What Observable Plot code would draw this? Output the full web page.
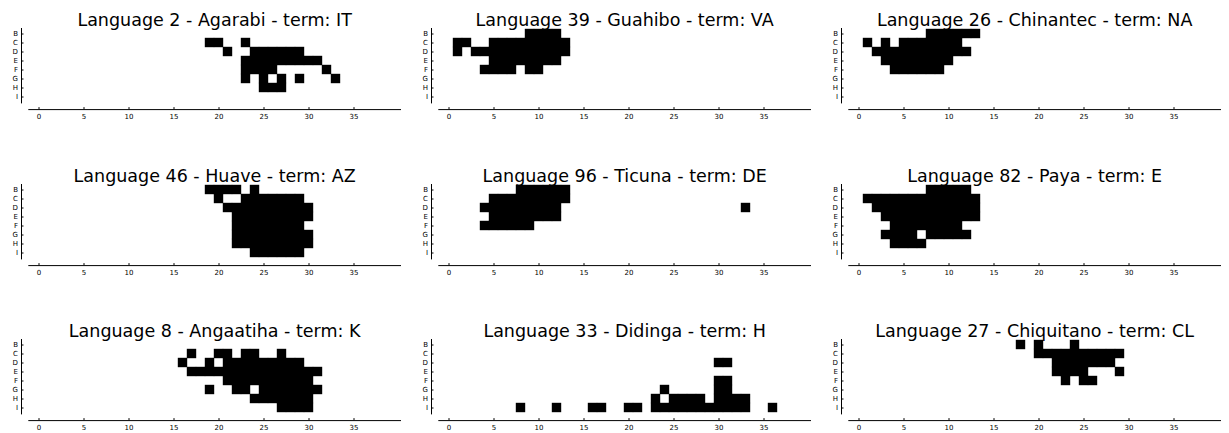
<!DOCTYPE html>
<html><head><meta charset="utf-8">
<script src="https://cdn.jsdelivr.net/npm/d3@7"></script>
<script src="https://cdn.jsdelivr.net/npm/@observablehq/plot@0.6"></script>
<style>
html,body{margin:0;padding:0;background:#fff;overflow:hidden}
#chart{position:relative;width:1229px;height:433px;overflow:hidden;background:#fff}
#chart svg{position:absolute}
</style></head><body><div id="chart"></div>
<script>
// Categories
const rowLabels = ["B","C","D","E","F","G","H","I"];
const columns = [0,1,2,3,4,5,6,7,8,9,10,11,12,13,14,15,16,17,18,19,20,21,22,23,24,25,26,27,28,29,30,31,32,33,34,35,36,37,38,39];
const xTicks = [0,5,10,15,20,25,30,35];

const titles = [
  "Language 2 - Agarabi - term: IT",
  "Language 39 - Guahibo - term: VA",
  "Language 26 - Chinantec - term: NA",
  "Language 46 - Huave - term: AZ",
  "Language 96 - Ticuna - term: DE",
  "Language 82 - Paya - term: E",
  "Language 8 - Angaatiha - term: K",
  "Language 33 - Didinga - term: H",
  "Language 27 - Chiquitano - term: CL"
];

// Filled cells per row (row label, column numbers)
const agarabi = [
  ["C", [19,20,23]],
  ["D", [21,24,25,26,27,28,29]],
  ["E", [23,24,25,26,27,28,29,30,31]],
  ["F", [23,24,25,26,32]],
  ["G", [23,25,27,29,33]],
  ["H", [25,26,27]]
];
const guahibo = [
  ["B", [9,10,11,12]],
  ["C", [1,2,5,6,7,8,9,10,11,12,13]],
  ["D", [1,3,4,5,6,7,8,9,10,11,12,13]],
  ["E", [5,6,7,8,9,10,11,12]],
  ["F", [4,5,6,7,9,10]]
];
const chinantec = [
  ["B", [8,9,10,11,12,13]],
  ["C", [1,3,5,6,7,8,9,10,11]],
  ["D", [2,3,4,5,6,7,8,9,10,11,12]],
  ["E", [3,4,5,6,7,8,9,10]],
  ["F", [4,5,6,7,8,9]]
];
const huave = [
  ["B", [19,20,21,22,24]],
  ["C", [20,23,24,25,26,27,28,29]],
  ["D", [21,22,23,24,25,26,27,28,29,30]],
  ["E", [22,23,24,25,26,27,28,29,30]],
  ["F", [22,23,24,25,26,27,28,29]],
  ["G", [22,23,24,25,26,27,28,29,30]],
  ["H", [22,23,24,25,26,27,28,29,30]],
  ["I", [24,25,26,27,28,29]]
];
const ticuna = [
  ["B", [8,9,10,11,12,13]],
  ["C", [5,6,7,8,9,10,11,12,13]],
  ["D", [4,5,6,7,8,9,10,11,12,33]],
  ["E", [5,6,7,8,9,10,11,12]],
  ["F", [4,5,6,7,8,9]]
];
const paya = [
  ["B", [8,9,10,11,12]],
  ["C", [1,2,3,4,5,6,7,8,9,10,11,12,13]],
  ["D", [2,3,4,5,6,7,8,9,10,11,12,13]],
  ["E", [3,4,5,6,7,8,9,10,11,12,13]],
  ["F", [4,5,6,7,8,9,10,11]],
  ["G", [3,4,5,6,8,9,10,11,12]],
  ["H", [4,5,6,7]]
];
const angaatiha = [
  ["C", [17,20,21,23,24,27]],
  ["D", [16,19,21,22,23,24,25,26,27,28,29]],
  ["E", [17,18,19,20,21,22,23,24,25,26,27,28,29,30,31]],
  ["F", [21,22,23,24,25,26,27,28,29,30]],
  ["G", [19,22,23,25,26,27,28,29,30,31]],
  ["H", [24,25,26,27,28,29,30]],
  ["I", [27,28,29,30]]
];
const didinga = [
  ["D", [30,31]],
  ["F", [30,31]],
  ["G", [24,30,31]],
  ["H", [23,25,26,27,28,30,31,32,33]],
  ["I", [8,12,16,17,20,21,23,24,25,26,27,28,29,30,31,32,33,36]]
];
const chiquitano = [
  ["B", [18,20,24]],
  ["C", [20,21,22,23,24,25,26,27,28,29]],
  ["D", [22,23,24,25,26,27,28]],
  ["E", [22,23,24,25,29]],
  ["F", [23,25,26]]
];

const panels = [agarabi, guahibo, chinantec, huave, ticuna, paya, angaatiha, didinga, chiquitano];
const rowTops = [0.3, 156, 311.3];

const chart = document.getElementById("chart");
panels.forEach((rows, i) => {
  const r = Math.floor(i / 3), c = i % 3;
  const cells = rows.flatMap(([row, cols]) => cols.map(col => ({row, col})));
  const svg = Plot.plot({
    width: 410,
    height: 121,
    marginTop: 28,
    marginBottom: 18.6,
    marginLeft: 28.3,
    marginRight: 10,
    x: {type: "band", domain: columns, padding: 0, axis: null},
    y: {type: "band", domain: rowLabels, padding: 0, axis: null},
    style: {fontFamily: "DejaVu Sans, sans-serif", fontSize: "7px", color: "black", background: "white", overflow: "visible"},
    marks: [
      Plot.cell(cells, {x: "col", y: "row", fill: "black", stroke: "black", strokeWidth: 0.4, inset: 0}),
      Plot.frame({anchor: "left", dx: -7.3, stroke: "black", strokeWidth: 1}),
      Plot.frame({anchor: "bottom", dy: 6.7, stroke: "black", strokeWidth: 1}),
      Plot.axisY({label: null, tickSize: 2.5, dx: -4.8, tickPadding: 3.5, fontSize: 7}),
      Plot.axisX({label: null, ticks: xTicks, tickSize: 2, dy: 4.7, tickPadding: 4.5, fontSize: 7}),
      Plot.text([titles[i]], {frameAnchor: "top", dy: -2.6, lineAnchor: "bottom", fontSize: 17.5, fill: "black"})
    ]
  });
  svg.style.left = (c * 410) + "px";
  svg.style.top = rowTops[r] + "px";
  chart.appendChild(svg);
});
</script>
</body></html>
